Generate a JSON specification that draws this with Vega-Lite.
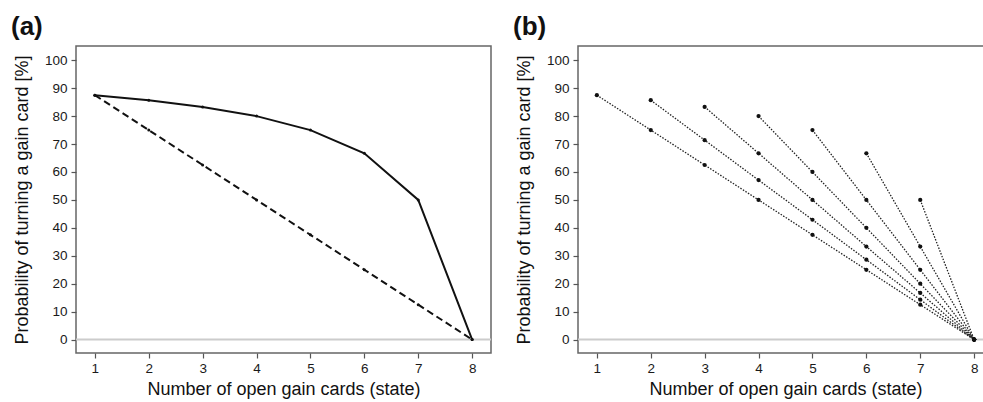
{
  "$schema": "https://vega.github.io/schema/vega-lite/v6.json",
  "autosize": {"type": "none"},
  "padding": {"left": 76, "top": 46, "right": 907, "bottom": 356},
  "background": "white",
  "bounds": "flush",
  "spacing": 87,
  "config": {
    "view": {"stroke": "#666", "strokeWidth": 1.5},
    "axis": {
      "domain": false, "grid": false, "ticks": true, "tickColor": "#555", "tickSize": 5, "tickWidth": 1.2,
      "labelFont": "Liberation Sans", "labelFontSize": 13.5, "labelColor": "#1a1a1a",
      "titleFont": "Liberation Sans", "titleFontSize": 18, "titleFontWeight": "normal", "titleColor": "#111"
    },
    "axisX": {"labelBaseline": "alphabetic", "labelPadding": 14, "labelFlush": false, "labelOverlap": false, "titleBaseline": "alphabetic", "titleY": 41, "titleX": 207.5},
    "axisY": {"labelPadding": 4, "labelOverlap": false, "labelFlush": false, "titleAngle": -90, "titleBaseline": "alphabetic", "titleAlign": "center", "titleX": -49, "titleY": 153.5},
    "title": {"font": "Liberation Sans", "fontSize": 26, "fontWeight": "bold", "color": "#111"}
  },
  "datasets": {
    "pts": [
      {"panel": "a", "series": "max", "x": 1, "y": 87.5},
      {"panel": "a", "series": "max", "x": 2, "y": 85.7},
      {"panel": "a", "series": "max", "x": 3, "y": 83.3},
      {"panel": "a", "series": "max", "x": 4, "y": 80},
      {"panel": "a", "series": "max", "x": 5, "y": 75},
      {"panel": "a", "series": "max", "x": 6, "y": 66.7},
      {"panel": "a", "series": "max", "x": 7, "y": 50},
      {"panel": "a", "series": "max", "x": 8, "y": 0},
      {"panel": "a", "series": "min", "x": 1, "y": 87.5},
      {"panel": "a", "series": "min", "x": 2, "y": 75},
      {"panel": "a", "series": "min", "x": 3, "y": 62.5},
      {"panel": "a", "series": "min", "x": 4, "y": 50},
      {"panel": "a", "series": "min", "x": 5, "y": 37.5},
      {"panel": "a", "series": "min", "x": 6, "y": 25},
      {"panel": "a", "series": "min", "x": 7, "y": 12.5},
      {"panel": "a", "series": "min", "x": 8, "y": 0},
      {"panel": "b", "series": "s1", "x": 1, "y": 87.5},
      {"panel": "b", "series": "s1", "x": 2, "y": 75},
      {"panel": "b", "series": "s1", "x": 3, "y": 62.5},
      {"panel": "b", "series": "s1", "x": 4, "y": 50},
      {"panel": "b", "series": "s1", "x": 5, "y": 37.5},
      {"panel": "b", "series": "s1", "x": 6, "y": 25},
      {"panel": "b", "series": "s1", "x": 7, "y": 12.5},
      {"panel": "b", "series": "s1", "x": 8, "y": 0},
      {"panel": "b", "series": "s2", "x": 2, "y": 85.7},
      {"panel": "b", "series": "s2", "x": 3, "y": 71.4},
      {"panel": "b", "series": "s2", "x": 4, "y": 57.1},
      {"panel": "b", "series": "s2", "x": 5, "y": 42.9},
      {"panel": "b", "series": "s2", "x": 6, "y": 28.6},
      {"panel": "b", "series": "s2", "x": 7, "y": 14.3},
      {"panel": "b", "series": "s2", "x": 8, "y": 0},
      {"panel": "b", "series": "s3", "x": 3, "y": 83.3},
      {"panel": "b", "series": "s3", "x": 4, "y": 66.7},
      {"panel": "b", "series": "s3", "x": 5, "y": 50},
      {"panel": "b", "series": "s3", "x": 6, "y": 33.3},
      {"panel": "b", "series": "s3", "x": 7, "y": 16.7},
      {"panel": "b", "series": "s3", "x": 8, "y": 0},
      {"panel": "b", "series": "s4", "x": 4, "y": 80},
      {"panel": "b", "series": "s4", "x": 5, "y": 60},
      {"panel": "b", "series": "s4", "x": 6, "y": 40},
      {"panel": "b", "series": "s4", "x": 7, "y": 20},
      {"panel": "b", "series": "s4", "x": 8, "y": 0},
      {"panel": "b", "series": "s5", "x": 5, "y": 75},
      {"panel": "b", "series": "s5", "x": 6, "y": 50},
      {"panel": "b", "series": "s5", "x": 7, "y": 25},
      {"panel": "b", "series": "s5", "x": 8, "y": 0},
      {"panel": "b", "series": "s6", "x": 6, "y": 66.7},
      {"panel": "b", "series": "s6", "x": 7, "y": 33.3},
      {"panel": "b", "series": "s6", "x": 8, "y": 0},
      {"panel": "b", "series": "s7", "x": 7, "y": 50},
      {"panel": "b", "series": "s7", "x": 8, "y": 0}
    ],
    "zero": [{"y": 0}]
  },
  "hconcat": [
    {
      "width": 415, "height": 307,
      "title": {"text": "(a)", "anchor": "start", "frame": "group", "dx": -65, "offset": 13, "dy": 28, "baseline": "alphabetic"},
      "encoding": {
        "x": {"field": "x", "type": "quantitative", "scale": {"domain": [0.65, 8.35], "nice": false, "zero": false}, "title": "Number of open gain cards (state)", "axis": {"values": [1, 2, 3, 4, 5, 6, 7, 8], "format": "d"}},
        "y": {"field": "y", "type": "quantitative", "scale": {"domain": [-4.8, 105.1], "nice": false, "zero": false}, "title": "Probability of turning a gain card [%]", "axis": {"values": [0, 10, 20, 30, 40, 50, 60, 70, 80, 90, 100], "format": "d"}}
      },
      "layer": [
        {
          "data": {"name": "zero"},
          "mark": {"type": "rule", "color": "#cccccc", "strokeWidth": 2},
          "encoding": {"x": null}
        },
        {
          "data": {"name": "pts"},
          "transform": [{"filter": "datum.panel === 'a' && datum.series === 'max'"}],
          "mark": {"type": "line", "color": "#111", "strokeWidth": 2}
        },
        {
          "data": {"name": "pts"},
          "transform": [{"filter": "datum.panel === 'a' && datum.series === 'min'"}],
          "mark": {"type": "line", "color": "#111", "strokeWidth": 2, "strokeDash": [7, 4]}
        },
        {
          "data": {"name": "pts"},
          "transform": [{"filter": "datum.panel === 'a'"}],
          "mark": {"type": "point", "filled": true, "color": "#111", "size": 9, "opacity": 1}
        }
      ]
    },
    {
      "width": 415, "height": 307,
      "title": {"text": "(b)", "anchor": "start", "frame": "group", "dx": -65, "offset": 13, "dy": 28, "baseline": "alphabetic"},
      "encoding": {
        "x": {"field": "x", "type": "quantitative", "scale": {"domain": [0.65, 8.35], "nice": false, "zero": false}, "title": "Number of open gain cards (state)", "axis": {"values": [1, 2, 3, 4, 5, 6, 7, 8], "format": "d"}},
        "y": {"field": "y", "type": "quantitative", "scale": {"domain": [-4.8, 105.1], "nice": false, "zero": false}, "title": "Probability of turning a gain card [%]", "axis": {"values": [0, 10, 20, 30, 40, 50, 60, 70, 80, 90, 100], "format": "d"}}
      },
      "layer": [
        {
          "data": {"name": "zero"},
          "mark": {"type": "rule", "color": "#cccccc", "strokeWidth": 2},
          "encoding": {"x": null}
        },
        {
          "data": {"name": "pts"},
          "transform": [{"filter": "datum.panel === 'b'"}],
          "mark": {"type": "line", "color": "#222", "strokeWidth": 1.3, "strokeDash": [1.5, 1.5]},
          "encoding": {"detail": {"field": "series", "type": "nominal"}}
        },
        {
          "data": {"name": "pts"},
          "transform": [{"filter": "datum.panel === 'b'"}],
          "mark": {"type": "point", "filled": true, "color": "#111", "size": 18, "opacity": 1}
        }
      ]
    }
  ]
}
